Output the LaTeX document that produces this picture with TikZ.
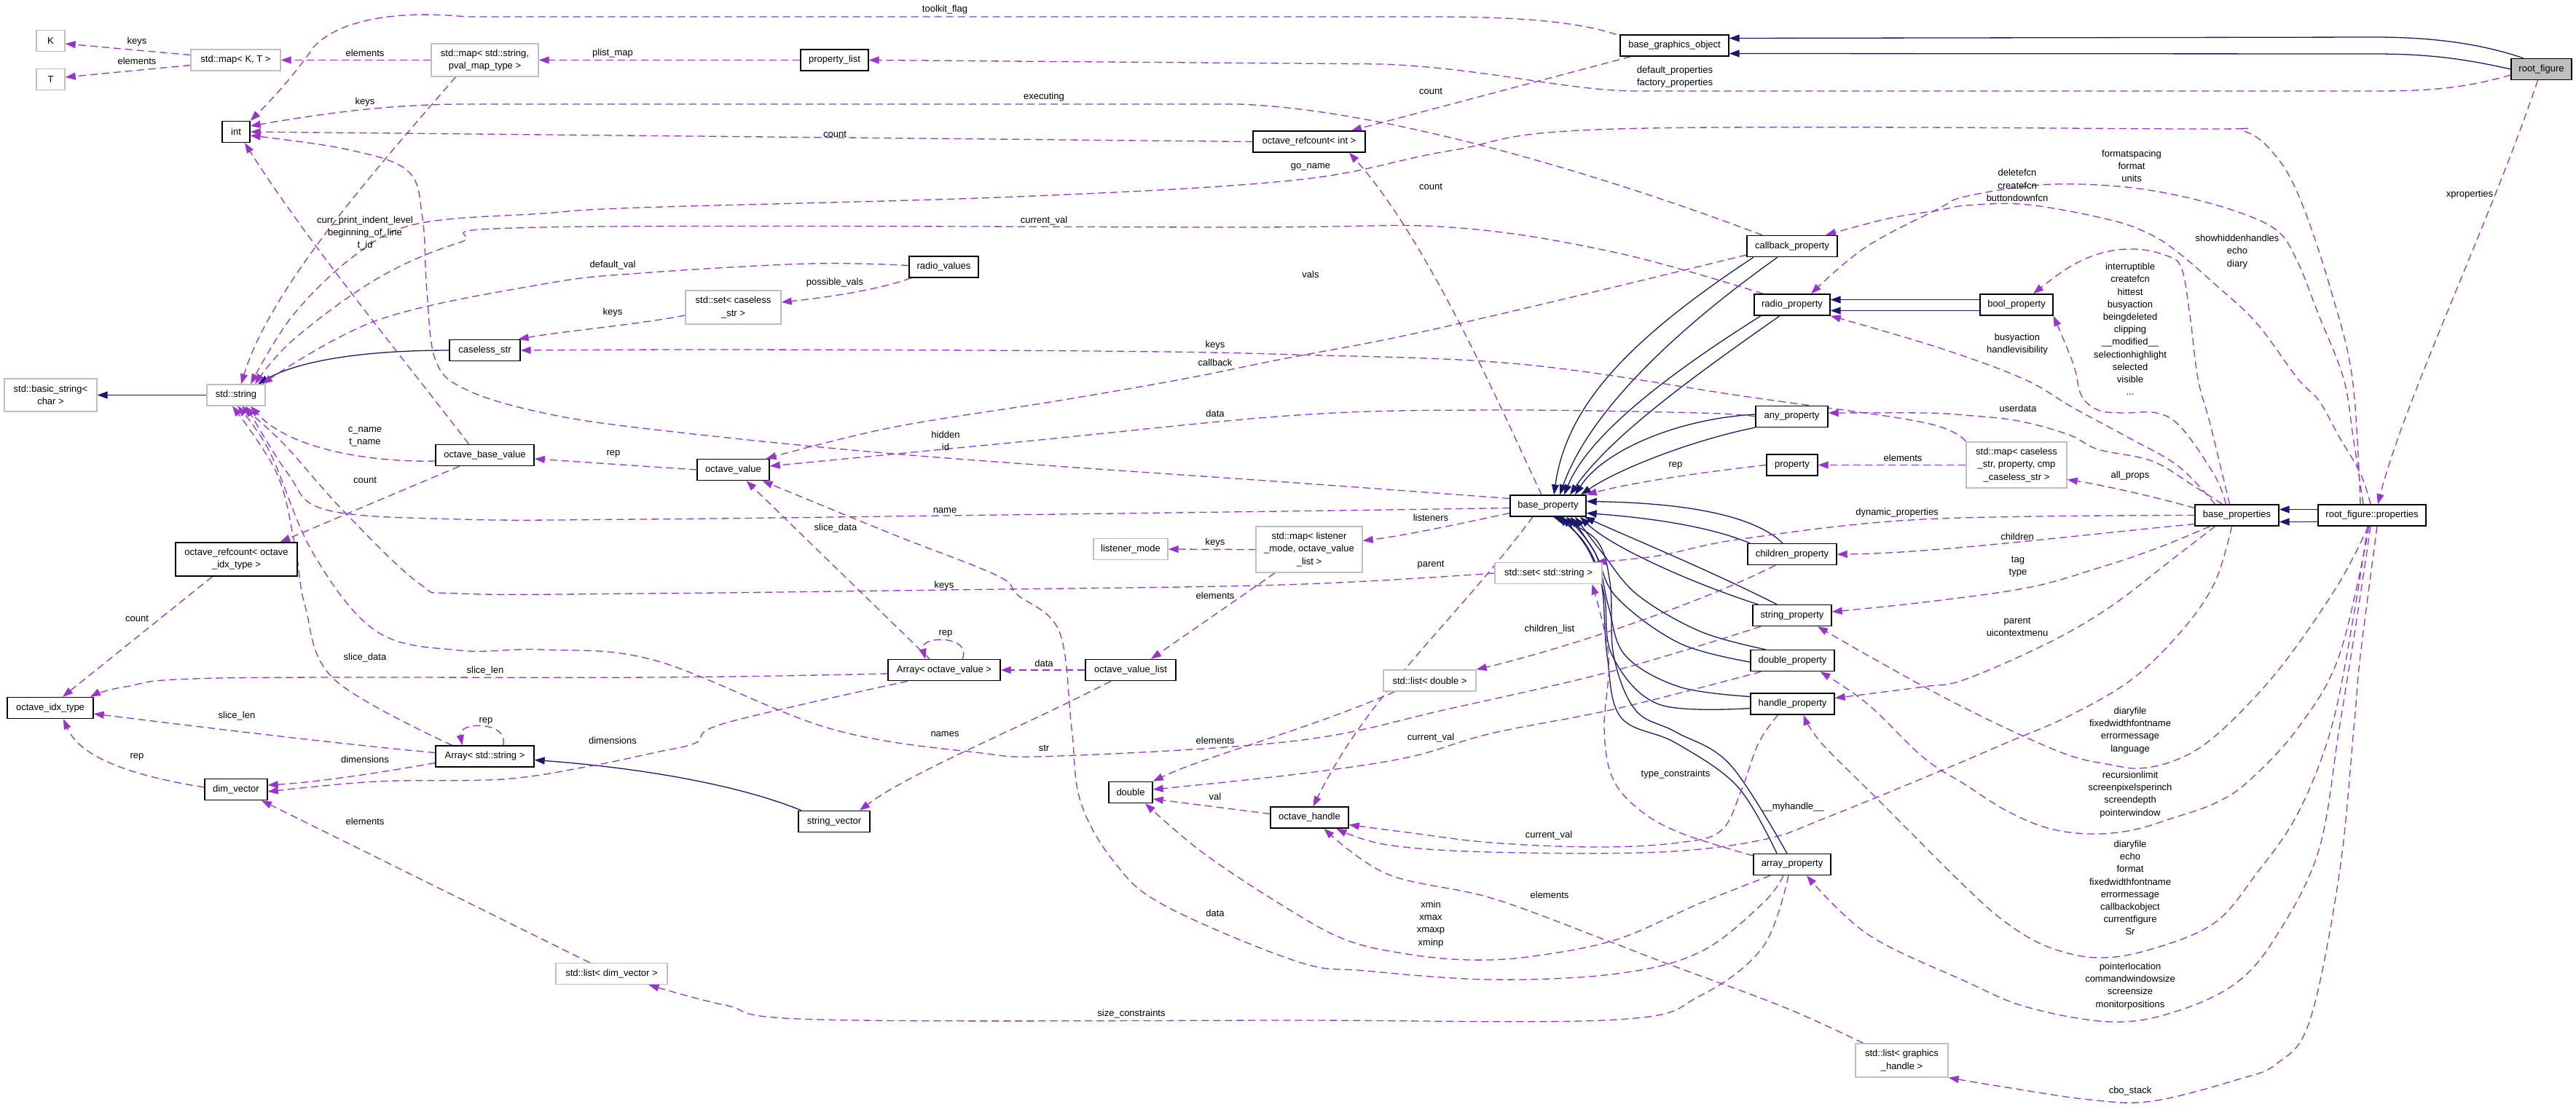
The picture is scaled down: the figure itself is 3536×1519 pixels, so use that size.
\documentclass[tikz,border=0pt]{standalone}
\usepackage{fontspec}
\setmainfont{Liberation Sans}
\usetikzlibrary{arrows.meta}
\definecolor{ed}{HTML}{9A32CD}
\definecolor{nv}{HTML}{191970}
\definecolor{gb}{HTML}{BFBFBF}
\pgfdeclarelayer{bg}
\pgfsetlayers{bg,main}
\tikzset{
  box/.style={rectangle, line width=1.4pt, inner sep=0pt, align=center,
    font=\fontsize{13}{17.2}\selectfont, minimum height=29pt},
  cls/.style={box, draw=black, fill=white},
  ext/.style={box, draw=gb, fill=white},
  rootbox/.style={box, draw=black, fill=gb},
  inh/.style={draw=nv, line width=1.3pt, -{Triangle[length=14pt,width=10pt]}},
  use/.style={draw=ed, line width=1.3pt, dash pattern=on 10pt off 6pt, -{Triangle[length=14pt,width=10pt]}},
  lbl/.style={inner sep=0pt, align=center, font=\fontsize{13}{17.2}\selectfont},
}
\begin{document}
\begin{tikzpicture}[x=1pt,y=-1pt]
\useasboundingbox (0,0) rectangle (3536,1519);
% ---------------- nodes
\node[ext,minimum width=39pt] (K) at (69.5,56) {K};
\node[ext,minimum width=39pt] (T) at (69.5,109) {T};
\node[ext,minimum width=123pt] (mapKT) at (323.5,82.5) {std::map< K, T >};
\node[ext,minimum width=147pt,minimum height=45pt] (mappval) at (665.5,82.5) {std::map< std::string,\\pval\_map\_type >};
\node[cls,minimum width=93pt] (plist) at (1145.5,82.5) {property\_list};
\node[cls,minimum width=149pt] (bgo) at (2298.5,62.5) {base\_graphics\_object};
\node[rootbox,minimum width=83pt] (rootfig) at (3488.5,95) {root\_figure};
\node[cls,minimum width=38pt] (int) at (324,181) {int};
\node[cls,minimum width=154pt] (refint) at (1797,194.5) {octave\_refcount< int >};
\node[cls,minimum width=124pt] (cbprop) at (2460,338) {callback\_property};
\node[cls,minimum width=95pt] (radiovals) at (1295.5,366.5) {radio\_values};
\node[ext,minimum width=131pt,minimum height=46pt] (setcs) at (1006.5,422) {std::set< caseless\\\_str >};
\node[cls,minimum width=104pt] (radioprop) at (2460,418.5) {radio\_property};
\node[cls,minimum width=100pt] (boolprop) at (2768,418.5) {bool\_property};
\node[cls,minimum width=97pt] (caseless) at (665.5,481) {caseless\_str};
\node[ext,minimum width=127pt,minimum height=45pt] (basicstr) at (69.5,542.5) {std::basic\_string<\\char >};
\node[ext,minimum width=80pt] (stdstring) at (324,542.5) {std::string};
\node[cls,minimum width=99pt] (anyprop) at (2459.5,572) {any\_property};
\node[cls,minimum width=135pt] (obv) at (665.5,625) {octave\_base\_value};
\node[ext,minimum width=138pt,minimum height=63pt] (mapcs) at (2768,638.5) {std::map< caseless\\\_str, property, cmp\\\_caseless\_str >};
\node[cls,minimum width=70pt] (property) at (2460,638.5) {property};
\node[cls,minimum width=99pt] (ov) at (1006.5,645) {octave\_value};
\node[cls,minimum width=104pt] (baseprop) at (2125,694.5) {base\_property};
\node[cls,minimum width=115pt] (baseprops) at (3070.5,707.5) {base\_properties};
\node[cls,minimum width=148pt] (rfprops) at (3256,707.5) {root\_figure::properties};
\node[ext,minimum width=102pt] (lmode) at (1552,754) {listener\_mode};
\node[ext,minimum width=146pt,minimum height=63pt] (maplm) at (1797,754.5) {std::map< listener\\\_mode, octave\_value\\\_list >};
\node[cls,minimum width=167pt,minimum height=46pt] (refidx) at (324.5,768) {octave\_refcount< octave\\\_idx\_type >};
\node[cls,minimum width=122pt] (childprop) at (2460,761) {children\_property};
\node[ext,minimum width=147pt] (setstr) at (2125.5,787) {std::set< std::string >};
\node[cls,minimum width=108pt] (strprop) at (2460,845) {string\_property};
\node[cls,minimum width=115pt] (dblprop) at (2460.5,907) {double\_property};
\node[cls,minimum width=154pt] (arrov) at (1296,920) {Array< octave\_value >};
\node[cls,minimum width=124pt] (ovl) at (1552,920) {octave\_value\_list};
\node[ext,minimum width=127pt] (listdbl) at (1962.5,934.5) {std::list< double >};
\node[cls,minimum width=115pt] (handleprop) at (2460.5,966.5) {handle\_property};
\node[cls,minimum width=118pt] (idx) at (69,972) {octave\_idx\_type};
\node[cls,minimum width=135pt] (arrstr) at (665.5,1038.5) {Array< std::string >};
\node[cls,minimum width=86pt] (dimvec) at (324,1084) {dim\_vector};
\node[cls,minimum width=60pt] (double) at (1552,1088) {double};
\node[cls,minimum width=107pt] (ohandle) at (1797.5,1122.5) {octave\_handle};
\node[cls,minimum width=98pt] (strvec) at (1145,1128) {string\_vector};
\node[cls,minimum width=106pt] (arrprop) at (2460,1187) {array\_property};
\node[ext,minimum width=153pt] (listdim) at (839.5,1337) {std::list< dim\_vector >};
\node[ext,minimum width=127pt,minimum height=46pt] (listgh) at (2610.5,1456) {std::list< graphics\\\_handle >};

\begin{pgfonlayer}{bg}
% ---------------- inheritance
\draw[inh] ([xshift=-25pt]rootfig.north) .. controls (3400,58) and (3330,51) .. (3260,51) -- ([yshift=10pt]bgo.east);
\draw[inh] (rootfig.west) .. controls (3380,80) and (3330,74) .. (3260,74) -- ([yshift=-11pt]bgo.east);
\draw[inh] ([yshift=8pt]rfprops.west) -- ([yshift=8pt]baseprops.east);
\draw[inh] ([yshift=-9pt]rfprops.west) -- ([yshift=-9pt]baseprops.east);
\draw[inh] (stdstring.west) -- (basicstr.east);
\draw[inh] (caseless.west) .. controls (500,481) and (410,495) .. ([xshift=30pt]stdstring.north);
\draw[inh] ([xshift=-45pt]strvec.north) .. controls (1000,1072) and (850,1052) .. ([yshift=-5pt]arrstr.east);
\draw[inh] ([yshift=7pt]boolprop.west) -- ([yshift=7pt]radioprop.east);
\draw[inh] ([yshift=-8pt]boolprop.west) -- ([yshift=-8pt]radioprop.east);
\draw[inh] ([xshift=-53pt]cbprop.south) .. controls (2230,470) and (2150,560) .. ([xshift=8pt]baseprop.north);
\draw[inh] ([xshift=-20pt]cbprop.south) .. controls (2290,460) and (2180,570) .. ([xshift=16pt]baseprop.north);
\draw[inh] ([xshift=-43pt]radioprop.south) .. controls (2280,520) and (2180,600) .. ([xshift=22pt]baseprop.north);
\draw[inh] ([xshift=-17pt]radioprop.south) .. controls (2320,520) and (2210,600) .. ([xshift=30pt]baseprop.north);
\draw[inh] ([yshift=3pt]anyprop.west) .. controls (2300,575) and (2200,620) .. ([xshift=37pt]baseprop.north);
\draw[inh] ([yshift=-15pt]anyprop.west) .. controls (2320,605) and (2220,645) .. ([xshift=45pt]baseprop.north);
\draw[inh] ([xshift=-13pt]childprop.north) .. controls (2400,700) and (2280,690) .. ([yshift=6pt]baseprop.east);
\draw[inh] ([xshift=-58pt]childprop.north) .. controls (2340,720) and (2250,710) .. ([yshift=-10pt]baseprop.east);
\draw[inh] ([xshift=-21pt]strprop.north) .. controls (2340,780) and (2230,735) .. ([xshift=50pt]baseprop.south);
\draw[inh] ([xshift=-47pt]strprop.north) .. controls (2320,800) and (2210,750) .. ([xshift=44pt]baseprop.south);
\draw[inh] plot[smooth,tension=0.6] coordinates {([xshift=-37pt]dblprop.north) (2334,867) (2248,817) (2200,760) ([xshift=37pt]baseprop.south)};
\draw[inh] plot[smooth,tension=0.6] coordinates {([yshift=-2pt]dblprop.west) (2305,883) (2219,820) (2190,760) ([xshift=31pt]baseprop.south)};
\draw[inh] plot[smooth,tension=0.6] coordinates {([yshift=10pt]handleprop.west) (2305,943) (2231,900) (2208,833) (2190,760) ([xshift=25pt]baseprop.south)};
\draw[inh] plot[smooth,tension=0.6] coordinates {([yshift=-6pt]handleprop.west) (2277,967) (2213,900) (2202,817) (2180,755) ([xshift=19pt]baseprop.south)};
\draw[inh] plot[smooth,tension=0.6] coordinates {([xshift=-21pt]arrprop.north) (2385,1080) (2300,1020) (2225,985) (2206,900) (2198,800) (2175,745) ([xshift=13pt]baseprop.south)};
\draw[inh] plot[smooth,tension=0.6] coordinates {([xshift=-7pt]arrprop.north) (2375,1050) (2300,1005) (2245,975) (2215,900) (2210,800) (2190,740) ([xshift=7pt]baseprop.south)};

% ---------------- usage
\draw[use] ([yshift=7pt]mapKT.west) -- ([yshift=-4pt]K.east);
\draw[use] ([yshift=-7pt]mapKT.west) -- ([yshift=3pt]T.east);
\draw[use] (mappval.west) -- (mapKT.east);
\draw[use] (plist.west) -- (mappval.east);
\draw[use] ([yshift=-8pt]rootfig.west) .. controls (3380,122) and (3330,125) .. (3260,125) -- (2250,125) .. controls (2150,125) and (2050,95) .. (1900,88) -- (plist.east);
\draw[use] ([xshift=-80pt]bgo.north) .. controls (2150,25) and (2050,23) .. (1950,23) -- (640,23) .. controls (560,15) and (470,22) .. (430,65) .. controls (410,95) and (380,130) .. (int.north east);
\draw[use] ([xshift=-60pt]bgo.south) -- ([xshift=58pt]refint.north);
\draw[use] (refint.west) -- (int.east);
\draw[use] ([xshift=-41pt]cbprop.north) .. controls (2200,240) and (1900,150) .. (1700,143) -- (640,143) .. controls (520,143) and (420,160) .. ([yshift=8pt]int.east);
\draw[use] ([xshift=-9pt]baseprop.north) .. controls (2060,560) and (1960,330) .. ([xshift=55pt]refint.south);
\draw[use] plot[smooth,tension=0.6] coordinates {([yshift=10pt]baseprop.west) (1780,663) (1250,625) (900,590) (746,567) (640,535) (598,495) (586,400) (580,300) (560,235) (476,205) ([yshift=-5pt]int.east)};
\draw[use] ([xshift=-22pt]obv.north) .. controls (560,500) and (420,330) .. ([xshift=12pt]int.south);
\draw[use] ([xshift=-40pt]mappval.south) .. controls (500,250) and (370,400) .. ([xshift=7pt]stdstring.north);
\draw[use] plot[smooth,tension=0.6] coordinates {([xshift=-16pt]rfprops.north) (3229,520) (3200,400) (3160,280) (3126,217) (3080,180) (3000,177) (2219,177) (1990,207) (1780,247) (1397,270) (880,285) (746,293) (574,307) (488,350) (402,433) ([xshift=20pt]stdstring.north)};
\draw[use] plot[smooth,tension=0.6] coordinates {([xshift=-40pt]radioprop.north) (2219,347) (1990,312) (1700,312) (746,312) (631,333) (517,383) (402,467) ([xshift=26pt]stdstring.north)};
\draw[use] plot[smooth,tension=0.6] coordinates {([yshift=2pt]radiovals.west) (1110,362) (880,375) (746,390) (517,440) ([xshift=36pt]stdstring.north)};
\draw[use] ([xshift=-45pt]radiovals.south) .. controls (1200,400) and (1120,410) .. ([yshift=7pt]setcs.east);
\draw[use] ([yshift=-11pt]setcs.west) .. controls (880,445) and (770,455) .. ([xshift=46pt]caseless.north);
\draw[use] plot[smooth,tension=0.6] coordinates {(mapcs.north west) (2640,580) (2400,545) (2087,500) (1780,487) (1500,482) (1000,480) (caseless.east)};
\draw[use] plot[smooth,tension=0.6] coordinates {([yshift=-12pt]cbprop.west) (2162,407) (1932,460) (1760,493) (1626,520) (1454,550) (1224,587) ([xshift=45pt]ov.north)};
\draw[use] plot[smooth,tension=0.6] coordinates {(anyprop.west) (2334,567) (2047,563) (1780,570) (1397,607) ([yshift=5pt]ov.east)};
\draw[use] (ov.west) -- ([yshift=-5pt]obv.east);
\draw[use] ([xshift=-35pt]obv.south) -- ([xshift=60pt]refidx.north);
\draw[use] ([xshift=-33pt]refidx.south) -- ([xshift=17pt]idx.north);
\draw[use] ([yshift=-8pt]obv.west) .. controls (520,635) and (400,620) .. ([xshift=20pt]stdstring.south);
\draw[use] plot[smooth,tension=0.6] coordinates {([yshift=-3pt]baseprop.west) (1760,702) (1297,708) (880,713) (631,713) (448,700) (395,650) ([xshift=14pt]stdstring.south)};
\draw[use] plot[smooth,tension=0.6] coordinates {(setstr.west) (1760,803) (1296,810) (880,815) (631,815) (574,800) (470,700) (390,610) ([xshift=8pt]stdstring.south)};
\draw[use] plot[smooth,tension=0.6] coordinates {([xshift=-43pt]strprop.south) (2219,920) (1990,973) (1780,1017) (1454,1038) (1339,1033) (1138,1000) (900,907) (746,892) (631,893) (517,867) (430,760) (370,620) ([xshift=2pt]stdstring.south)};
\draw[use] plot[smooth,tension=0.6] coordinates {([xshift=-45pt]arrstr.north) (459,933) (419,833) (405,750) (380,650) ([xshift=-5pt]stdstring.south)};
\draw[use] (maplm.west) -- (lmode.east);
\draw[use] ([xshift=-47pt]maplm.south) -- ([xshift=28pt]ovl.north);
\draw[use] ([yshift=-10pt]baseprop.west) .. controls (2000,720) and (1930,735) .. ([yshift=12pt]maplm.east);
\draw[use] (ovl.west) -- (arrov.east);
\draw[use] ([xshift=-27pt]ovl.south) .. controls (1400,1000) and (1250,1060) .. ([xshift=35pt]strvec.north);
\draw[use] ([xshift=25pt]arrov.north) .. controls (1335,872) and (1262,872) .. ([xshift=-26pt]arrov.north);
\draw[use] ([xshift=-20pt]arrov.north) -- ([xshift=18pt]ov.south);
\draw[use] plot[smooth,tension=0.6] coordinates {([xshift=-50pt]arrov.south) (995,993) (955,1020) (900,1033) (804,1053) (689,1070) (517,1073) ([yshift=-3pt]dimvec.east)};
\draw[use] plot[smooth,tension=0.6] coordinates {([yshift=-5pt]arrov.west) (900,930) (304,931) (172,943) ([xshift=55pt]idx.north)};
\draw[use] ([yshift=5pt]arrstr.west) .. controls (450,1020) and (250,995) .. ([yshift=-8pt]idx.east);
\draw[use] ([xshift=25pt]arrstr.north) .. controls (700,990) and (628,990) .. ([xshift=-31pt]arrstr.north);
\draw[use] ([yshift=-9pt]arrstr.west) .. controls (500,1065) and (420,1075) .. ([yshift=6pt]dimvec.east);
\draw[use] ([yshift=3pt]dimvec.west) .. controls (180,1065) and (110,1040) .. ([xshift=18pt]idx.south);
\draw[use] ([xshift=-30pt]listdim.north) -- ([xshift=35pt]dimvec.south);
\draw[use] ([xshift=-48pt]listdbl.south) .. controls (1800,1000) and (1650,1040) .. (double.north east);
\draw[use] ([xshift=-23pt]childprop.south) .. controls (2330,830) and (2150,890) .. (listdbl.north east);
\draw[use] plot[smooth,tension=0.6] coordinates {([xshift=-43pt]dblprop.south) (2219,973) (2047,1007) (1932,1040) (1780,1063) ([yshift=4pt]double.east)};
\draw[use] ([yshift=5pt]ohandle.west) -- ([yshift=-9pt]double.east);
\draw[use] plot[smooth,tension=0.6] coordinates {([xshift=-30pt]arrprop.south) (2334,1240) (2219,1290) (2104,1313) (2018,1318) (1932,1310) (1846,1290) (1760,1243) (1650,1170) ([xshift=20pt]double.south)};
\draw[use] plot[smooth,tension=0.6] coordinates {([xshift=-12pt]arrprop.south) (2420,1240) (2334,1307) (2219,1337) (2047,1345) (1875,1333) (1780,1320) (1598,1243) (1529,1183) (1483,1100) (1471,1000) (1454,867) (1397,817) (1368,790) (1224,733) ([xshift=40pt]ov.south)};
\draw[use] plot[smooth,tension=0.6] coordinates {([yshift=12pt]arrprop.west) (2305,1143) (2248,1110) (2213,1067) (2202,1000) (2208,900) ([xshift=60pt]setstr.south)};
\draw[use] plot[smooth,tension=0.6] coordinates {([xshift=-5pt]arrprop.south) (2420,1300) (2334,1367) (2219,1400) (1780,1401) (1127,1400) (995,1380) ([xshift=51pt]listdim.south)};
\draw[use] plot[smooth,tension=0.6] coordinates {([xshift=-20pt]handleprop.south) (2414,1020) (2391,1083) (2363,1140) (2305,1157) (2191,1163) (2047,1157) (1932,1143) ([yshift=-10pt]ohandle.east)};
\draw[use] plot[smooth,tension=0.6] coordinates {([xshift=-7pt]baseprops.south) (3040,800) (2994,867) (2926,933) (2840,983) (2754,1020) (2660,1060) (2506,1123) (2420,1153) (2277,1170) (2047,1170) (1904,1160) ([xshift=37pt]ohandle.south)};
\draw[use] plot[smooth,tension=0.6] coordinates {([xshift=-53pt]listgh.north) (2449,1383) (2288,1323) (2202,1290) (2047,1233) (1904,1200) ([xshift=20pt]ohandle.south)};
\draw[use] ([xshift=-21pt]baseprop.south) .. controls (2000,850) and (1880,950) .. ([xshift=5pt]ohandle.north);
\draw[use] (property.west) .. controls (2320,650) and (2230,665) .. (baseprop.north east);
\draw[use] (mapcs.west) -- (property.east);
\draw[use] ([xshift=-5pt]rootfig.south) .. controls (3420,300) and (3300,550) .. ([xshift=8pt]rfprops.north);
\draw[use] plot[smooth,tension=0.6] coordinates {([xshift=7pt]rfprops.south) (3240,900) (3231,1000) (3211,1200) (3171,1400) (3126,1460) (3069,1483) (2954,1512) (2869,1510) (2754,1493) (listgh.south east)};
\draw[use] plot[smooth,tension=0.6] coordinates {([xshift=-2pt]rfprops.south) (3235,850) (3211,1000) (3183,1167) (3126,1283) (3069,1350) (2983,1390) (2897,1403) (2783,1383) (2697,1347) (2564,1283) ([xshift=20pt]arrprop.south)};
\draw[use] plot[smooth,tension=0.6] coordinates {([xshift=-6pt]rfprops.south) (3230,850) (3200,1000) (3154,1117) (3097,1200) (3040,1267) (2954,1303) (2880,1315) (2811,1300) (2754,1267) (2697,1217) (2580,1100) (2500,1020) ([xshift=15pt]handleprop.south)};
\draw[use] plot[smooth,tension=0.6] coordinates {([xshift=-4pt]rfprops.south) (3211,900) (3154,1000) (3086,1073) (3040,1103) (2983,1123) (2926,1140) (2869,1145) (2811,1137) (2754,1113) (2697,1077) (2640,1040) (2564,967) ([xshift=38pt]dblprop.south)};
\draw[use] plot[smooth,tension=0.6] coordinates {([xshift=-5pt]rfprops.south) (3211,800) (3143,900) (3086,967) (3029,1020) (2983,1045) (2937,1055) (2897,1050) (2840,1037) (2754,1000) (2660,953) (2564,900) ([xshift=35pt]strprop.south)};
\draw[use] plot[smooth,tension=0.6] coordinates {([xshift=-30pt]baseprops.south) (2983,767) (2897,833) (2811,883) (2697,933) (2640,943) ([yshift=8pt]handleprop.east)};
\draw[use] plot[smooth,tension=0.6] coordinates {([xshift=-37pt]baseprops.south) (2960,753) (2880,780) (2783,807) (2640,827) ([yshift=5pt]strprop.east)};
\draw[use] ([yshift=-12pt]baseprops.west) .. controls (2850,735) and (2650,760) .. (childprop.east);
\draw[use] plot[smooth,tension=0.6] coordinates {(baseprops.west) (2640,713) (2391,740) (2277,763) ([xshift=65pt]setstr.north)};
\draw[use] ([yshift=10pt]baseprops.west) .. controls (2950,680) and (2880,665) .. ([yshift=-20pt]mapcs.east);
\draw[use] plot[smooth,tension=0.6] coordinates {([xshift=-20pt]baseprops.north) (3011,667) (2954,633) (2880,617) (2840,597) (2771,578) (2697,570) (2640,567) ([yshift=5pt]anyprop.east)};
\draw[use] plot[smooth,tension=0.6] coordinates {([xshift=-30pt]baseprops.north) (2990,640) (2920,600) (2846,560) (2777,520) (2660,477) (radioprop.south east)};
\draw[use] plot[smooth,tension=0.6] coordinates {([xshift=-10pt]baseprops.north) (3034,583) (3017,520) (3006,433) (2994,367) (2971,350) (2931,342) (2886,347) (2840,367) ([xshift=23pt]boolprop.north)};
\draw[use] plot[smooth,tension=0.6] coordinates {([xshift=-15pt]baseprops.north) (3040,653) (2994,587) (2960,567) (2914,567) (2880,563) (2857,543) (2846,500) (boolprop.south east)};
\draw[use] plot[smooth,tension=0.6] coordinates {([xshift=-12pt]rfprops.north) (3230,600) (3217,520) (3183,433) (3154,360) (3126,317) (3069,290) (2983,267) (2897,255) (2800,254) (2697,270) (2660,287) (2560,340) ([xshift=26pt]radioprop.north)};
\draw[use] plot[smooth,tension=0.6] coordinates {([xshift=-2pt]rfprops.north) (3240,650) (3211,600) (3183,550) (3154,520) (3097,443) (3040,390) (2994,350) (2954,323) (2897,302) (2783,281) (2700,282) (2660,289) (2592,300) ([xshift=46pt]cbprop.north)};
\end{pgfonlayer}

% ---------------- labels
\node[lbl] (l1) at (188,57) {keys};
\node[lbl] (l2) at (188,84) {elements};
\node[lbl] (l3) at (501,73) {elements};
\node[lbl] (l4) at (841,73) {plist\_map};
\node[lbl] (l5) at (1297,13) {toolkit\_flag};
\node[lbl] (l6) at (2299,105.5) {default\_properties\\factory\_properties};
\node[lbl] (l7) at (1964,125) {count};
\node[lbl] (l8) at (1433,133) {executing};
\node[lbl] (l9) at (501,140) {keys};
\node[lbl] (l10) at (1146,184) {count};
\node[lbl] (l11) at (1799,229) {go\_name};
\node[lbl] (l12) at (1964,256) {count};
\node[lbl] (l13) at (2926,228) {formatspacing\\format\\units};
\node[lbl] (l14) at (2769,254.5) {deletefcn\\createfcn\\buttondownfcn};
\node[lbl] (l15) at (3390,267) {xproperties};
\node[lbl] (l16) at (1433,303) {current\_val};
\node[lbl] (l17) at (501,320) {curr\_print\_indent\_level\\beginning\_of\_line\\t\_id};
\node[lbl] (l18) at (3071,345.5) {showhiddenhandles\\echo\\diary};
\node[lbl] (l19) at (841,364) {default\_val};
\node[lbl] (l20) at (1799,377) {vals};
\node[lbl] (l21) at (1146,388) {possible\_vals};
\node[lbl] (l22) at (841,429) {keys};
\node[lbl] (l23) at (2924,452) {interruptible\\createfcn\\hittest\\busyaction\\beingdeleted\\clipping\\\_\_modified\_\_\\selectionhighlight\\selected\\visible\\...};
\node[lbl] (l24) at (2769,473) {busyaction\\handlevisibility};
\node[lbl] (l25) at (1668,474) {keys};
\node[lbl] (l26) at (1668,498) {callback};
\node[lbl] (l27) at (2770,561) {userdata};
\node[lbl] (l28) at (1668,568) {data};
\node[lbl] (l29) at (501,599.5) {c\_name\\t\_name};
\node[lbl] (l30) at (1298,605.5) {hidden\\id};
\node[lbl] (l31) at (842,623) {rep};
\node[lbl] (l32) at (2612,629) {elements};
\node[lbl] (l33) at (2300,639) {rep};
\node[lbl] (l34) at (2924,653) {all\_props};
\node[lbl] (l35) at (501,659) {count};
\node[lbl] (l36) at (1297,701) {name};
\node[lbl] (l37) at (2604,704) {dynamic\_properties};
\node[lbl] (l38) at (1964,711) {listeners};
\node[lbl] (l39) at (1147,725) {slice\_data};
\node[lbl] (l40) at (2769,737) {children};
\node[lbl] (l41) at (1668,745) {keys};
\node[lbl] (l42) at (2770,778) {tag\\type};
\node[lbl] (l43) at (1964,776) {parent};
\node[lbl] (l44) at (1296,804) {keys};
\node[lbl] (l45) at (1668,818) {elements};
\node[lbl] (l46) at (188,849) {count};
\node[lbl] (l47) at (2769,860.5) {parent\\uicontextmenu};
\node[lbl] (l48) at (2127,864) {children\_list};
\node[lbl] (l49) at (1298,870) {rep};
\node[lbl] (l50) at (501,903) {slice\_data};
\node[lbl] (l51) at (1433,911) {data};
\node[lbl] (l52) at (666,921) {slice\_len};
\node[lbl] (l53) at (2924,1003) {diaryfile\\fixedwidthfontname\\errormessage\\language};
\node[lbl] (l54) at (325,983) {slice\_len};
\node[lbl] (l55) at (667,990) {rep};
\node[lbl] (l56) at (1297,1008) {names};
\node[lbl] (l57) at (1964,1013) {current\_val};
\node[lbl] (l58) at (1668,1017) {elements};
\node[lbl] (l59) at (841,1017) {dimensions};
\node[lbl] (l60) at (1433,1027) {str};
\node[lbl] (l61) at (188,1039) {rep};
\node[lbl] (l62) at (501,1043) {dimensions};
\node[lbl] (l63) at (2300,1063) {type\_constraints};
\node[lbl] (l64) at (2924,1091) {recursionlimit\\screenpixelsperinch\\screendepth\\pointerwindow};
\node[lbl] (l65) at (1668,1094) {val};
\node[lbl] (l66) at (2461,1108) {\_\_myhandle\_\_};
\node[lbl] (l67) at (501,1128) {elements};
\node[lbl] (l68) at (2126,1147) {current\_val};
\node[lbl] (l69) at (2924,1219) {diaryfile\\echo\\format\\fixedwidthfontname\\errormessage\\callbackobject\\currentfigure\\Sr};
\node[lbl] (l70) at (2127,1229) {elements};
\node[lbl] (l71) at (1964,1269) {xmin\\xmax\\xmaxp\\xminp};
\node[lbl] (l72) at (1668,1254) {data};
\node[lbl] (l73) at (2924,1354) {pointerlocation\\commandwindowsize\\screensize\\monitorpositions};
\node[lbl] (l74) at (1553,1392) {size\_constraints};
\node[lbl] (l75) at (2924,1498) {cbo\_stack};
\end{tikzpicture}
\end{document}
